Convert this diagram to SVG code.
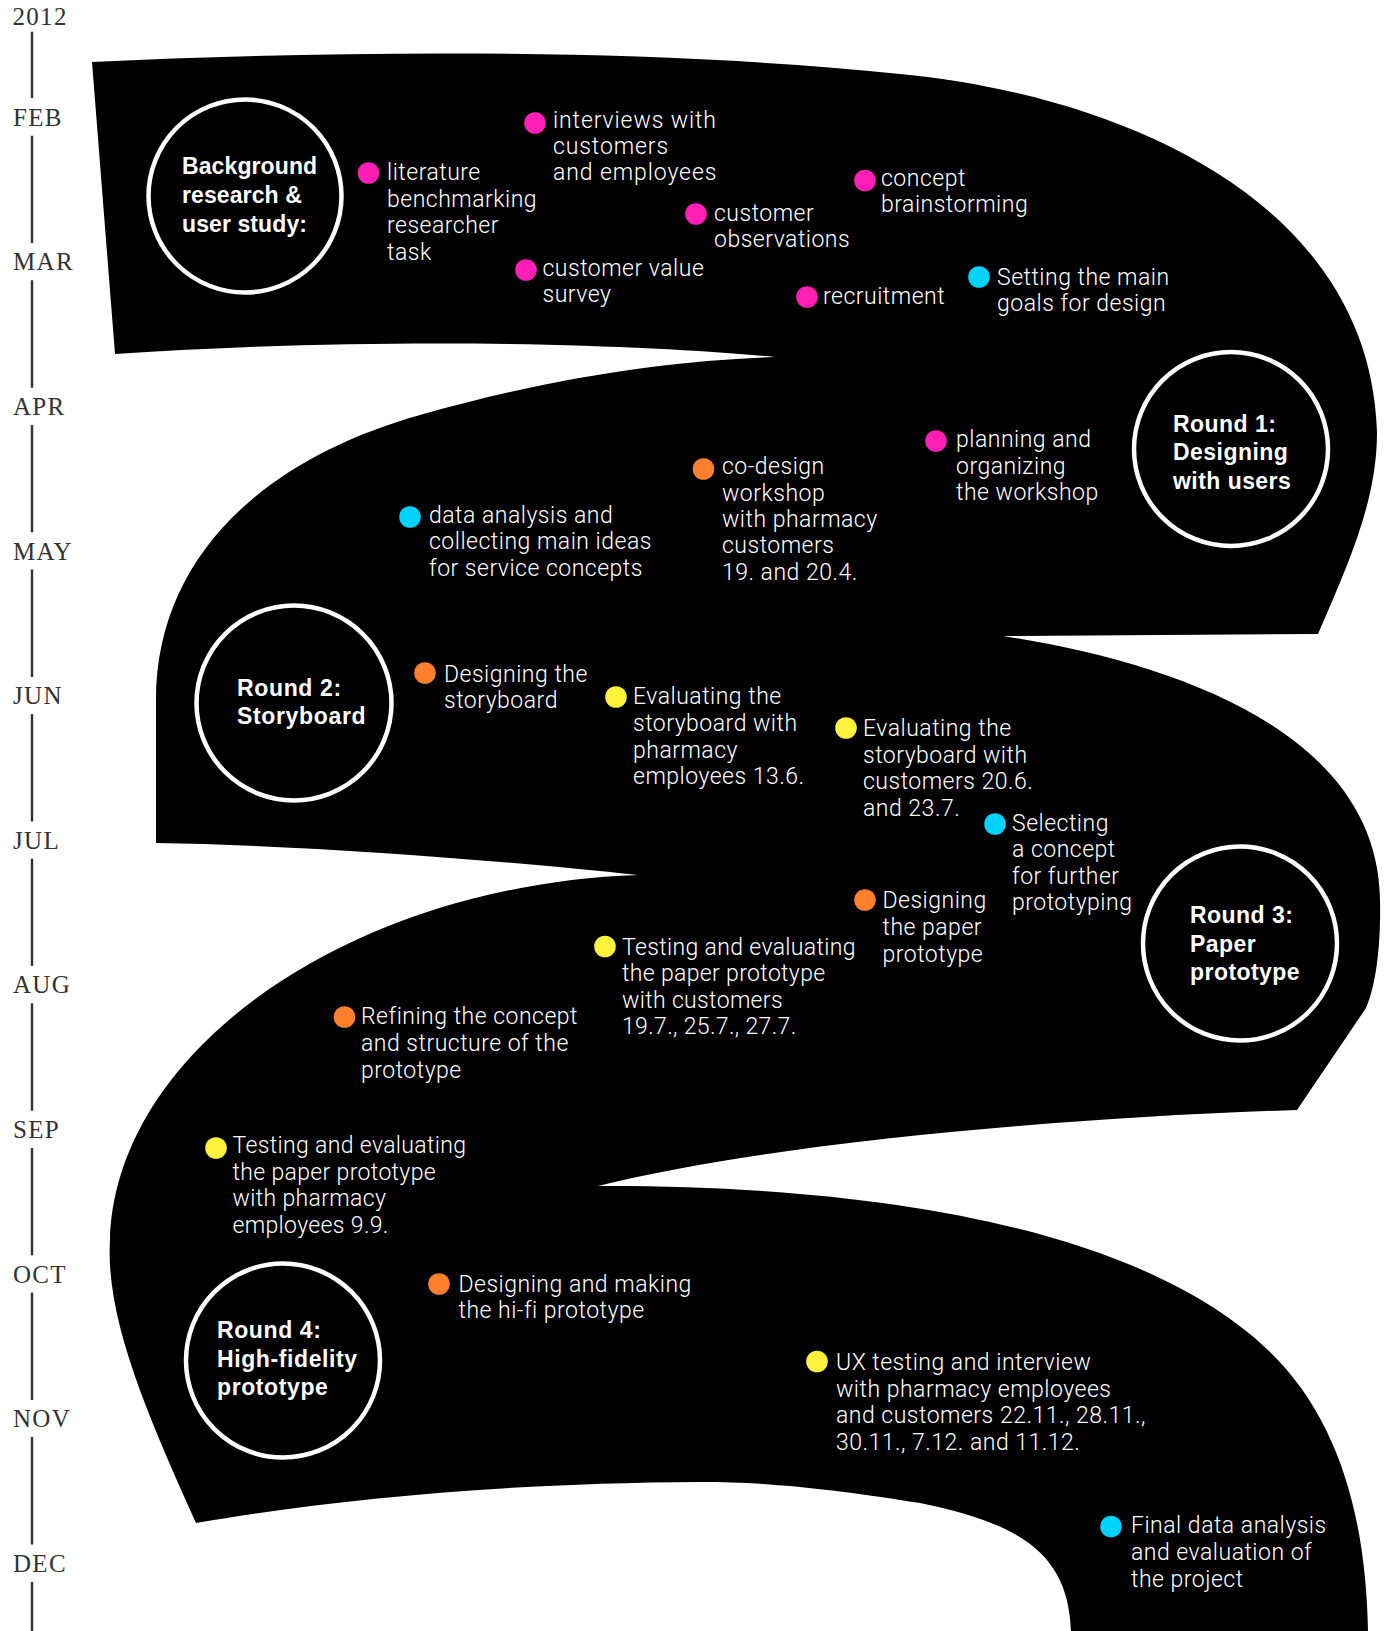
<svg xmlns="http://www.w3.org/2000/svg" width="1384" height="1631" viewBox="0 0 1384 1631">
  <style>
    .ribbon { fill: #000; }
    .axis { stroke: #333; stroke-width: 2.4; fill: none; }
    .mon { font-family: "Liberation Serif", "Times New Roman", serif; font-size: 25px; fill: #333; letter-spacing: 1.3px; }
    .ring { fill: none; stroke: #fff; stroke-width: 4.5; }
    .title { font-family: "Liberation Sans", Arial, sans-serif; font-weight: bold; font-size: 23px; fill: #fff; letter-spacing: 0.45px; }
    .lbl { font-family: "Roboto", "Liberation Sans", Arial, sans-serif; font-weight: 300; font-size: 23px; fill: #fff; letter-spacing: 0.5px; }
    .pink { fill: #ff1fb5; }
    .cyan { fill: #00d2fb; }
    .orange { fill: #ff7f2c; }
    .yellow { fill: #fff23c; }
  </style>

  <rect width="1384" height="1631" fill="#fff"/>

  <!-- month axis -->
  <g id="timeline">
    <path class="axis" d="M32,31.7 V98.3 M32,135.7 V243.1 M32,280.3 V387.7 M32,424.9 V532.3 M32,569.5 V676.9 M32,714.1 V821.5 M32,858.7 V966.1 M32,1003.3 V1110.7 M32,1147.9 V1255.3 M32,1292.5 V1399.9 M32,1437.1 V1544.5 M32,1581.7 V1631"/>
    <text class="mon" x="12.5" y="25">2012</text>
    <text class="mon" x="13" y="125.7">FEB</text>
    <text class="mon" x="13" y="270.3">MAR</text>
    <text class="mon" x="13" y="414.9">APR</text>
    <text class="mon" x="13" y="559.5">MAY</text>
    <text class="mon" x="13" y="704.1">JUN</text>
    <text class="mon" x="13" y="848.7">JUL</text>
    <text class="mon" x="13" y="993.3">AUG</text>
    <text class="mon" x="13" y="1137.9">SEP</text>
    <text class="mon" x="13" y="1282.5">OCT</text>
    <text class="mon" x="13" y="1427.1">NOV</text>
    <text class="mon" x="13" y="1571.7">DEC</text>
  </g>

  <!-- the winding black band carrying the project phases -->
  <g id="connectors">
    <path class="ribbon" d="M92,62
      C350,50 650,48 900,74
      C1120,95 1370,200 1377,432
      C1377,500 1350,560 1318,634
      L1003,636
      C1170,662 1378,730 1380,900
      C1381,945 1376,985 1366,1008
      L1297,1110
      C1050,1118 760,1145 598,1186
      C900,1185 1150,1235 1270,1352
      C1340,1420 1366,1520 1368,1631
      L1071,1631
      C1068,1560 1030,1525 920,1503
      C820,1487 760,1482 700,1482
      C500,1483 330,1500 196,1523
      C150,1420 105,1320 110,1240
      C115,1050 350,885 638,875
      C500,860 300,845 156,843
      L156,700
      C156,560 260,460 420,415
      C560,375 680,360 775,357
      C650,345 400,335 115,354
      Z"/>
  </g>

  <!-- phase circles -->
  <g id="phase-background">
    <circle class="ring" cx="245" cy="196" r="96.5"/>
    <text class="title" style="letter-spacing:0.1px"><tspan x="182" y="174.3">Background</tspan><tspan x="182" y="203">research &amp;</tspan><tspan x="182" y="231.7">user study:</tspan></text>
  </g>
  <g id="phase-round1">
    <circle class="ring" cx="1231" cy="449" r="97"/>
    <text class="title"><tspan x="1173" y="431.5">Round 1:</tspan><tspan x="1173" y="460.3">Designing</tspan><tspan x="1173" y="489.2">with users</tspan></text>
  </g>
  <g id="phase-round2">
    <circle class="ring" cx="294" cy="703" r="97.5"/>
    <text class="title" style="letter-spacing:0.65px"><tspan x="237" y="695.5">Round 2:</tspan><tspan x="237" y="723.6">Storyboard</tspan></text>
  </g>
  <g id="phase-round3">
    <circle class="ring" cx="1240" cy="943.5" r="97"/>
    <text class="title"><tspan x="1190" y="923.3">Round 3:</tspan><tspan x="1190" y="951.7">Paper</tspan><tspan x="1190" y="979.5">prototype</tspan></text>
  </g>
  <g id="phase-round4">
    <circle class="ring" cx="283" cy="1360.5" r="97"/>
    <text class="title" style="letter-spacing:0.6px"><tspan x="217" y="1338">Round 4:</tspan><tspan x="217" y="1366.8">High-fidelity</tspan><tspan x="217" y="1395.3">prototype</tspan></text>
  </g>

  <!-- activities -->
  <g id="act-literature">
    <circle class="pink" cx="368.5" cy="173" r="10.8"/>
    <text class="lbl"><tspan x="387" y="180">literature</tspan><tspan x="387" dy="26.6">benchmarking</tspan><tspan x="387" dy="26.6">researcher</tspan><tspan x="387" dy="26.6">task</tspan></text>
  </g>
  <g id="act-interviews">
    <circle class="pink" cx="535" cy="123" r="10.8"/>
    <text class="lbl" style="letter-spacing:0.9px"><tspan x="553" y="127.5">interviews with</tspan><tspan x="553" dy="26.3">customers</tspan><tspan x="553" dy="26.3">and employees</tspan></text>
  </g>
  <g id="act-observations">
    <circle class="pink" cx="696" cy="214" r="10.8"/>
    <text class="lbl"><tspan x="714" y="220.5">customer</tspan><tspan x="714" dy="26.4">observations</tspan></text>
  </g>
  <g id="act-survey">
    <circle class="pink" cx="526" cy="270" r="10.8"/>
    <text class="lbl"><tspan x="542.5" y="276">customer value</tspan><tspan x="542.5" dy="26.4">survey</tspan></text>
  </g>
  <g id="act-brainstorming">
    <circle class="pink" cx="865" cy="180.5" r="10.8"/>
    <text class="lbl"><tspan x="881" y="185.5">concept</tspan><tspan x="881" dy="26.2">brainstorming</tspan></text>
  </g>
  <g id="act-recruitment">
    <circle class="pink" cx="807" cy="297" r="10.8"/>
    <text class="lbl" x="823" y="303.5">recruitment</text>
  </g>
  <g id="act-goals">
    <circle class="cyan" cx="979" cy="277" r="10.8"/>
    <text class="lbl"><tspan x="997" y="284.5">Setting the main</tspan><tspan x="997" dy="26.2">goals for design</tspan></text>
  </g>
  <g id="act-planning">
    <circle class="pink" cx="936" cy="441" r="10.8"/>
    <text class="lbl"><tspan x="956" y="447">planning and</tspan><tspan x="956" dy="26.5">organizing</tspan><tspan x="956" dy="26.5">the workshop</tspan></text>
  </g>
  <g id="act-codesign">
    <circle class="orange" cx="703.5" cy="469" r="10.8"/>
    <text class="lbl"><tspan x="722" y="474.3">co-design</tspan><tspan x="722" dy="26.3">workshop</tspan><tspan x="722" dy="26.3">with pharmacy</tspan><tspan x="722" dy="26.3">customers</tspan><tspan x="722" dy="26.3">19. and 20.4.</tspan></text>
  </g>
  <g id="act-analysis">
    <circle class="cyan" cx="410" cy="517" r="10.8"/>
    <text class="lbl"><tspan x="429" y="522.7">data analysis and</tspan><tspan x="429" dy="26.6">collecting main ideas</tspan><tspan x="429" dy="26.6">for service concepts</tspan></text>
  </g>
  <g id="act-storyboard">
    <circle class="orange" cx="425" cy="673" r="10.8"/>
    <text class="lbl"><tspan x="444" y="681.7">Designing the</tspan><tspan x="444" dy="26">storyboard</tspan></text>
  </g>
  <g id="act-eval-employees">
    <circle class="yellow" cx="616" cy="697" r="10.8"/>
    <text class="lbl"><tspan x="633" y="704.3">Evaluating the</tspan><tspan x="633" dy="26.6">storyboard with</tspan><tspan x="633" dy="26.6">pharmacy</tspan><tspan x="633" dy="26.6">employees 13.6.</tspan></text>
  </g>
  <g id="act-eval-customers">
    <circle class="yellow" cx="846" cy="728" r="10.8"/>
    <text class="lbl"><tspan x="863" y="736">Evaluating the</tspan><tspan x="863" dy="26.5">storyboard with</tspan><tspan x="863" dy="26.5">customers 20.6.</tspan><tspan x="863" dy="26.5">and 23.7.</tspan></text>
  </g>
  <g id="act-selecting">
    <circle class="cyan" cx="995" cy="824" r="10.8"/>
    <text class="lbl"><tspan x="1012" y="830.7">Selecting</tspan><tspan x="1012" dy="26.5">a concept</tspan><tspan x="1012" dy="26.5">for further</tspan><tspan x="1012" dy="26.5">prototyping</tspan></text>
  </g>
  <g id="act-paper-design">
    <circle class="orange" cx="865" cy="900" r="10.8"/>
    <text class="lbl"><tspan x="882.5" y="908.3">Designing</tspan><tspan x="882.5" dy="26.7">the paper</tspan><tspan x="882.5" dy="26.7">prototype</tspan></text>
  </g>
  <g id="act-paper-customers">
    <circle class="yellow" cx="605" cy="946.5" r="10.8"/>
    <text class="lbl" style="letter-spacing:0.35px"><tspan x="622" y="955">Testing and evaluating</tspan><tspan x="622" dy="26.4">the paper prototype</tspan><tspan x="622" dy="26.4">with customers</tspan><tspan x="622" dy="26.4">19.7., 25.7., 27.7.</tspan></text>
  </g>
  <g id="act-refining">
    <circle class="orange" cx="344.5" cy="1017" r="10.8"/>
    <text class="lbl"><tspan x="361" y="1024.3">Refining the concept</tspan><tspan x="361" dy="26.7">and structure of the</tspan><tspan x="361" dy="26.7">prototype</tspan></text>
  </g>
  <g id="act-paper-employees">
    <circle class="yellow" cx="216" cy="1148" r="10.8"/>
    <text class="lbl" style="letter-spacing:0.35px"><tspan x="232.5" y="1153.3">Testing and evaluating</tspan><tspan x="232.5" dy="26.5">the paper prototype</tspan><tspan x="232.5" dy="26.5">with pharmacy</tspan><tspan x="232.5" dy="26.5">employees 9.9.</tspan></text>
  </g>
  <g id="act-hifi">
    <circle class="orange" cx="439" cy="1284" r="10.8"/>
    <text class="lbl"><tspan x="458.5" y="1291.7">Designing and making</tspan><tspan x="458.5" dy="26.6">the hi-fi prototype</tspan></text>
  </g>
  <g id="act-ux">
    <circle class="yellow" cx="817" cy="1361.5" r="10.8"/>
    <text class="lbl"><tspan x="836" y="1370">UX testing and interview</tspan><tspan x="836" dy="26.5">with pharmacy employees</tspan><tspan x="836" dy="26.5">and customers 22.11., 28.11.,</tspan><tspan x="836" dy="26.5">30.11., 7.12. and 11.12.</tspan></text>
  </g>
  <g id="act-final">
    <circle class="cyan" cx="1111" cy="1526.5" r="10.8"/>
    <text class="lbl"><tspan x="1131" y="1533.3">Final data analysis</tspan><tspan x="1131" dy="26.7">and evaluation of</tspan><tspan x="1131" dy="26.7">the project</tspan></text>
  </g>
</svg>
